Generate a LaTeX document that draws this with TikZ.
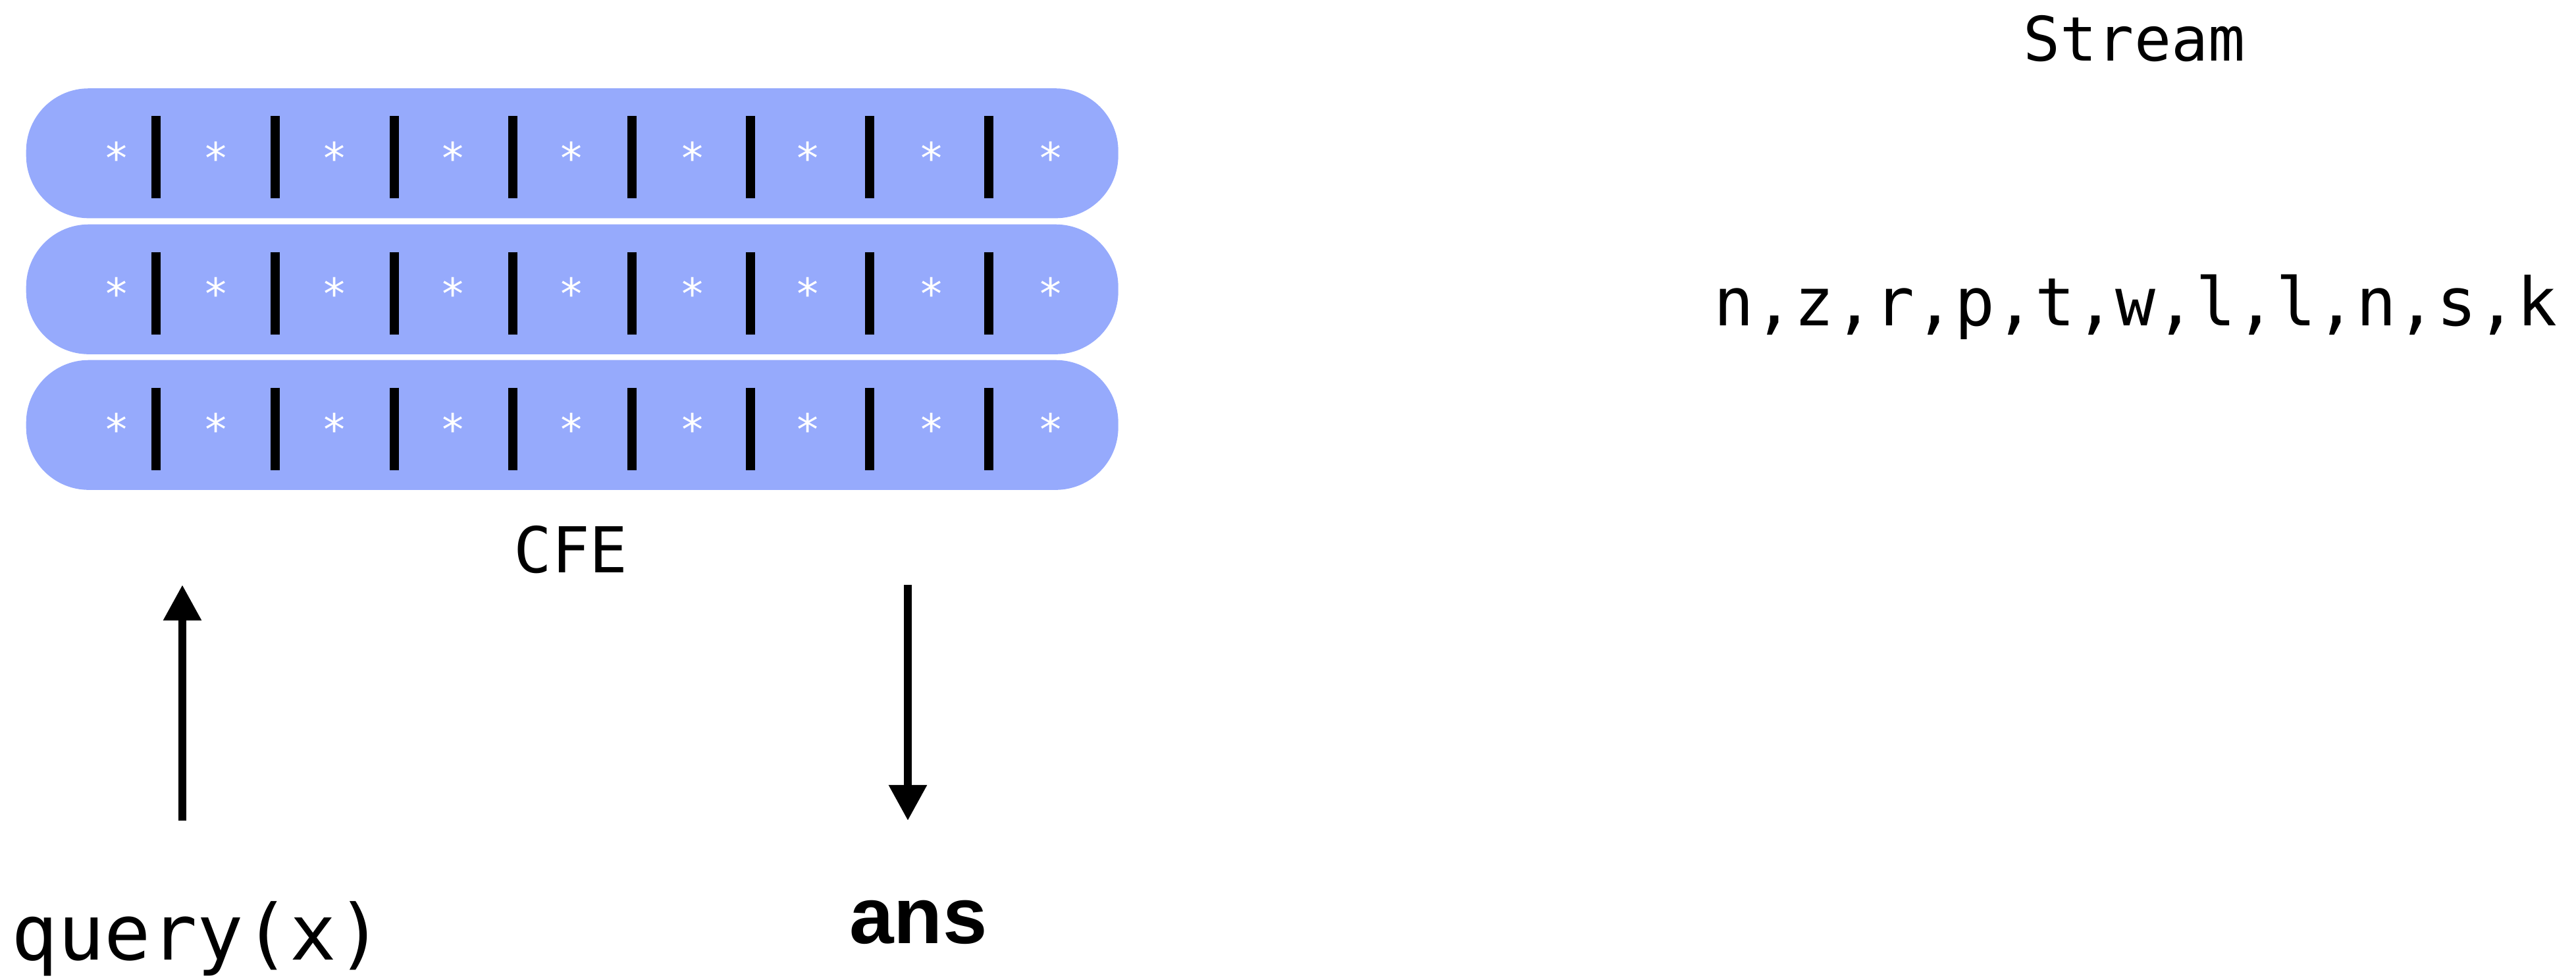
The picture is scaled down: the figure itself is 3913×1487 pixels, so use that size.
\documentclass[tikz,border=0pt]{standalone}
\usepackage{fontspec}
\setmainfont{DejaVu Sans Mono}
\newfontfamily\ansfont{Liberation Sans}
\usetikzlibrary{arrows.meta}
\definecolor{cfeblue}{RGB}{150,170,252}
\begin{document}
\begin{tikzpicture}[x=0.01cm,y=-0.01cm,
  rowbox/.style={fill=cfeblue, rounded corners=0.95cm, minimum width=16.58cm, minimum height=1.97cm, inner sep=0, anchor=north west},
  sepbar/.style={line width=0.14cm, black},
  star/.style={text=white, font=\fontsize{18.5}{18.5}\selectfont, inner sep=0},
  lbl/.style={anchor=base, inner sep=0},
  flow/.style={line width=0.12cm, -{Triangle[width=0.55cm,length=0.54cm]}}]
\useasboundingbox (0,0) rectangle (3913,1487);
\foreach \t [count=\r] in {133.5,340,546} {
  \node[rowbox] (row\r) at (39,\t) {};
  \foreach \bx in {237,418,599,779,960,1140,1321,1502}
    \draw[sepbar] (\bx,\t+42.5) -- (\bx,\t+167.5);
  \foreach \sx [count=\k] in {177,328,508,688,868,1052,1227,1415,1596}
    \node[star] (s\r-\k) at (\sx,\t+105.5) {*};
}
\node[lbl, font=\fontsize{26.5}{30}\selectfont] (stream) at (3242,92) {Stream};
\node[lbl, font=\fontsize{28.8}{32}\selectfont] (list) at (3244,494) {n,z,r,p,t,w,l,l,n,s,k};
\node[lbl, font=\fontsize{27.3}{30}\selectfont] (cfe) at (867,869) {CFE};
\node[lbl, font=\fontsize{33.3}{36}\selectfont] (query) at (300,1457) {query(x)};
\node[lbl, font=\ansfont\bfseries\fontsize{34.5}{38}\selectfont] (ans) at (1395,1432) {ans};
\coordinate (qs) at (277,1246);
\coordinate (qe) at (277,888);
\coordinate (as) at (1379,888);
\coordinate (ae) at (1379,1246);
\draw[flow] (qs) -- (qe);
\draw[flow] (as) -- (ae);
\end{tikzpicture}
\end{document}
